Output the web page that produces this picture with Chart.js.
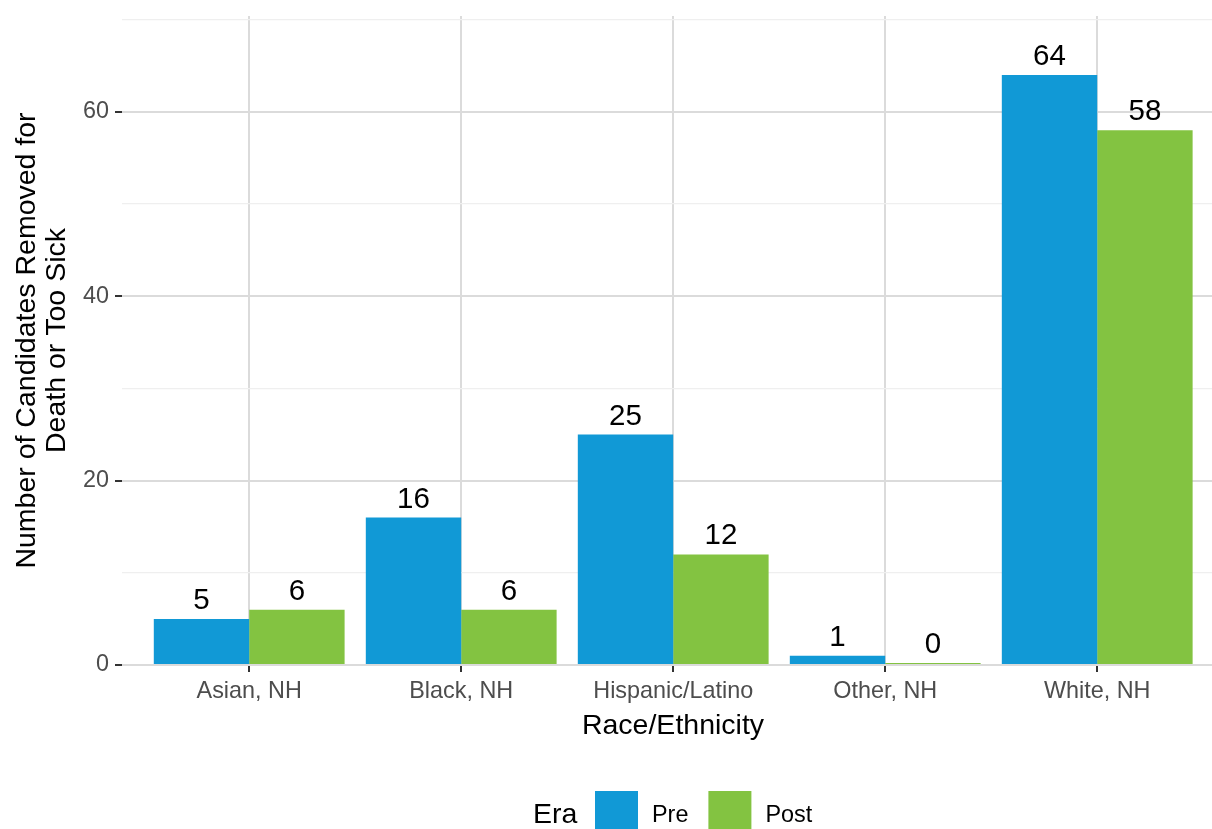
<!DOCTYPE html>
<html>
<head>
<meta charset="utf-8">
<script src="https://cdn.jsdelivr.net/npm/chart.js@4/dist/chart.umd.min.js"></script>
<style>
  html, body { margin: 0; padding: 0; background: #fff; overflow: hidden; }
  #wrap { width: 1212px; height: 829px; overflow: hidden; }
  canvas { display: block; }
</style>
</head>
<body>
<div id="wrap"><canvas id="eraChart" width="1224" height="829"></canvas></div>
<script>
// data
const categories = ["Asian, NH", "Black, NH", "Hispanic/Latino", "Other, NH", "White, NH"];
const seriesNames = ["Pre", "Post"];
const preCounts = [5, 16, 25, 1, 64];
const postCounts = [6, 6, 12, 0, 58];
const yMajorTicks = [0, 20, 40, 60];
const yMinorTicks = [10, 30, 50, 70];

const fontFamily = "'Liberation Sans', Arial, Helvetica, sans-serif";
const colors = ["#1199D6", "#83C341"];
Chart.defaults.font.family = fontFamily;

const isMajor = (v) => yMajorTicks.includes(v);

// numbers above the bars
const barLabels = {
  id: "barLabels",
  afterDatasetsDraw(chart) {
    const ctx = chart.ctx;
    ctx.save();
    ctx.font = "29.5px " + fontFamily;
    ctx.fillStyle = "#000";
    ctx.textAlign = "center";
    ctx.textBaseline = "alphabetic";
    chart.data.datasets.forEach((ds, i) => {
      chart.getDatasetMeta(i).data.forEach((bar, j) => {
        const top = Math.min(bar.y, bar.base);
        ctx.fillText(String(ds.data[j].y), bar.x, top - 10);
      });
    });
    ctx.restore();
  }
};

// ggplot-like legend: title on the left, keys in a row
const eraLegend = {
  id: "eraLegend",
  afterDraw(chart) {
    const ctx = chart.ctx;
    ctx.save();
    ctx.textAlign = "left";
    ctx.textBaseline = "alphabetic";
    ctx.fillStyle = "#000";
    ctx.font = "28.5px " + fontFamily;
    ctx.fillText("Era", 533, 823);
    ctx.font = "23.4px " + fontFamily;
    let x = 595;
    chart.data.datasets.forEach((ds) => {
      ctx.fillStyle = ds.backgroundColor;
      ctx.fillRect(x, 791, 43, 44);
      ctx.fillStyle = "#000";
      ctx.fillText(ds.label, x + 57, 822);
      x += 57 + ctx.measureText(ds.label).width + 20;
    });
    ctx.restore();
  }
};

const toPoints = (arr) => arr.map((v, i) => ({ x: i, y: v }));

new Chart(document.getElementById("eraChart"), {
  type: "bar",
  data: {
    datasets: [
      { label: seriesNames[0], data: toPoints(preCounts), backgroundColor: colors[0] },
      { label: seriesNames[1], data: toPoints(postCounts), backgroundColor: colors[1] }
    ]
  },
  options: {
    responsive: false,
    animation: false,
    layout: { padding: { top: 16, left: 0, right: 0, bottom: 0 } },
    datasets: {
      bar: { categoryPercentage: 0.9, barPercentage: 1, borderWidth: 0, minBarLength: 2 }
    },
    plugins: {
      legend: { display: false },
      tooltip: { enabled: false }
    },
    scales: {
      x: {
        type: "linear",
        min: -0.6,
        max: 4.598,
        offset: false,
        afterBuildTicks: (s) => { s.ticks = categories.map((_, i) => ({ value: i })); },
        afterFit: (s) => { s.height = 164; s.paddingLeft = 0; s.paddingRight = 0; },
        border: { display: false },
        grid: { offset: false, color: "#DBDBDB", lineWidth: 2, tickColor: "#333333", tickLength: 7, tickWidth: 2 },
        ticks: {
          callback: (v) => categories[v],
          padding: 6,
          color: "#4D4D4D",
          font: { size: 23.4 },
          maxRotation: 0,
          autoSkip: false
        },
        title: {
          display: true,
          text: "Race/Ethnicity",
          color: "#000",
          font: { size: 28.5 },
          padding: { top: 0, bottom: 86 }
        }
      },
      y: {
        min: 0,
        max: 70.4,
        afterBuildTicks: (s) => {
          s.ticks = [...yMajorTicks, ...yMinorTicks].sort((a, b) => a - b).map((v) => ({ value: v }));
        },
        afterFit: (s) => { s.width = 122; s.paddingTop = 0; s.paddingBottom = 0; },
        border: { display: false },
        grid: {
          color: (c) => isMajor(c.tick.value) ? "#DBDBDB" : "#EFEFEF",
          lineWidth: (c) => isMajor(c.tick.value) ? 2 : 1.2,
          tickColor: (c) => isMajor(c.tick.value) ? "#333333" : "rgba(0,0,0,0)",
          tickLength: 7,
          tickWidth: 2
        },
        ticks: {
          callback: (v) => isMajor(v) ? String(v) : "",
          padding: 6,
          color: "#4D4D4D",
          font: { size: 23.4 }
        },
        title: {
          display: true,
          text: ["Number of Candidates Removed for", "Death or Too Sick"],
          color: "#000",
          font: { size: 28.5, lineHeight: "30.6px" },
          padding: { top: 11.5, bottom: 0 }
        }
      }
    }
  },
  plugins: [barLabels, eraLegend]
});
</script>
</body>
</html>
